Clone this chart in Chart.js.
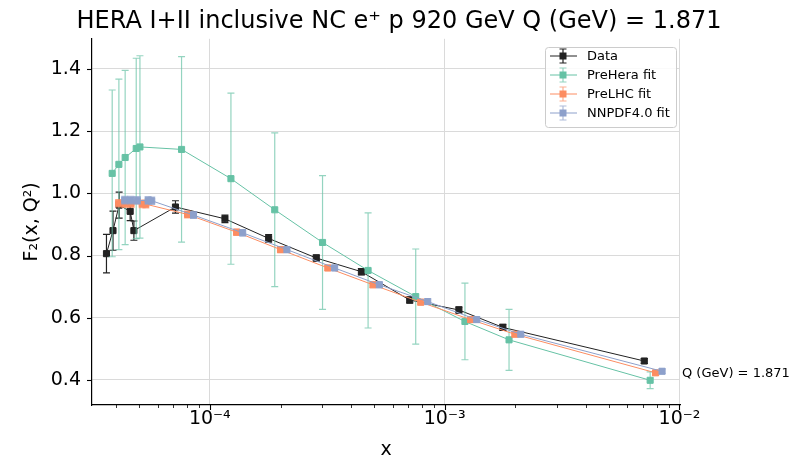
<!DOCTYPE html>
<html>
<head>
<meta charset="utf-8">
<script src="https://cdn.jsdelivr.net/npm/chart.js@4.4.1/dist/chart.umd.min.js"></script>
<style>
  html, body { margin: 0; padding: 0; background: #fff; }
</style>
</head>
<body>
<canvas id="chart" width="798" height="457"></canvas>
<script>
// values
var dataX = [3.63e-5, 3.87e-5, 4.11e-5, 4.58e-5, 4.75e-5, 7.14e-5, 1.16e-4, 1.78e-4, 2.84e-4, 4.42e-4, 7.10e-4, 1.15e-3, 1.77e-3, 7.08e-3];
var dataY = [0.806, 0.880, 0.962, 0.942, 0.880, 0.956, 0.918, 0.855, 0.792, 0.748, 0.657, 0.625, 0.569, 0.461];
var dataErr = [0.062, 0.063, 0.042, 0.030, 0.031, 0.020, 0.012, 0.012, 0.010, 0.010, 0.010, 0.010, 0.010, 0.008];

var preHeraX = [3.84e-5, 4.10e-5, 4.36e-5, 4.86e-5, 5.04e-5, 7.58e-5, 1.23e-4, 1.89e-4, 3.02e-4, 4.72e-4, 7.53e-4, 1.22e-3, 1.88e-3, 7.50e-3];
var preHeraY = [1.064, 1.093, 1.115, 1.144, 1.149, 1.141, 1.047, 0.947, 0.842, 0.752, 0.668, 0.588, 0.529, 0.399];
var preHeraErr = [0.268, 0.274, 0.280, 0.290, 0.293, 0.298, 0.275, 0.247, 0.215, 0.185, 0.153, 0.123, 0.098, 0.027];

var preLhcX = [4.09e-5, 4.35e-5, 4.62e-5, 5.15e-5, 5.34e-5, 8.04e-5, 1.30e-4, 2.00e-4, 3.18e-4, 4.95e-4, 7.91e-4, 1.29e-3, 1.99e-3, 7.91e-3];
var preLhcY = [0.968, 0.967, 0.967, 0.966, 0.965, 0.932, 0.875, 0.819, 0.760, 0.706, 0.650, 0.594, 0.547, 0.423];
var preLhcErr = [0.012, 0.012, 0.012, 0.012, 0.012, 0.011, 0.010, 0.010, 0.009, 0.009, 0.009, 0.008, 0.008, 0.008];

var nnpdfX = [4.34e-5, 4.61e-5, 4.91e-5, 5.46e-5, 5.66e-5, 8.52e-5, 1.38e-4, 2.13e-4, 3.40e-4, 5.27e-4, 8.47e-4, 1.37e-3, 2.11e-3, 8.43e-3];
var nnpdfY = [0.978, 0.978, 0.977, 0.977, 0.976, 0.930, 0.873, 0.819, 0.760, 0.706, 0.652, 0.594, 0.547, 0.428];
var nnpdfErr = [0.012, 0.012, 0.012, 0.012, 0.012, 0.011, 0.010, 0.010, 0.009, 0.009, 0.009, 0.008, 0.008, 0.008];

var xMajor = [1e-4, 1e-3, 1e-2];
var xMajorLabels = ['10\u207b\u2074', '10\u207b\u00b3', '10\u207b\u00b2'];
var yTicks = [0.4, 0.6, 0.8, 1.0, 1.2, 1.4];

var seriesNames = ['Data', 'PreHera fit', 'PreLHC fit', 'NNPDF4.0 fit'];
var seriesColors = ['#222222', '#66c2a5', '#fc8d62', '#8da0cb'];
var errColors = ['#222222', 'rgba(102,194,165,0.7)', 'rgba(252,141,98,0.7)', 'rgba(141,160,203,0.7)'];

Chart.defaults.font.family = 'DejaVu Sans';
Chart.defaults.color = '#000';

var pts = function (xs, ys) {
    return xs.map(function (x, i) { return {x: x, y: ys[i]}; });
};

var mkSet = function (k, xs, ys, errs) {
    return {
        label: seriesNames[k],
        data: pts(xs, ys),
        errors: errs,
        errColor: errColors[k],
        showLine: true,
        borderColor: seriesColors[k],
        backgroundColor: seriesColors[k],
        borderWidth: 1,
        pointStyle: 'rect',
        pointRadius: 4.3,
        pointBorderWidth: 1,
        pointBorderColor: seriesColors[k],
        pointBackgroundColor: seriesColors[k],
        order: 4 - k
    };
};

// error bars, drawn under each series' own line and markers
var errorBars = {
    id: 'errorBars',
    beforeDatasetDraw: function (chart, args) {
        var ds = chart.data.datasets[args.index];
        if (!ds.errors) return;
        var y = chart.scales.y, ctx = chart.ctx, a = chart.chartArea;
        ctx.save();
        ctx.beginPath();
        ctx.rect(a.left, a.top, a.right - a.left, a.bottom - a.top);
        ctx.clip();
        ctx.strokeStyle = ds.errColor;
        ctx.lineWidth = 1.2;
        args.meta.data.forEach(function (pt, i) {
            var v = ds.data[i].y, e = ds.errors[i];
            var top = y.getPixelForValue(v + e), bot = y.getPixelForValue(v - e);
            ctx.beginPath();
            ctx.moveTo(pt.x, top); ctx.lineTo(pt.x, bot);
            ctx.moveTo(pt.x - 3.5, top); ctx.lineTo(pt.x + 3.5, top);
            ctx.moveTo(pt.x - 3.5, bot); ctx.lineTo(pt.x + 3.5, bot);
            ctx.stroke();
        });
        ctx.restore();
    }
};

// tick marks, legend box and side note
var extras = {
    id: 'extras',
    afterDraw: function (chart) {
        var ctx = chart.ctx, a = chart.chartArea;
        var xs = chart.scales.x, ys = chart.scales.y;
        ctx.save();
        ctx.strokeStyle = '#000';

        // x ticks, major + minor
        for (var p = -5; p <= -2; p++) {
            for (var m = 1; m <= 9; m++) {
                var v = m * Math.pow(10, p);
                if (v < xs.min || v > xs.max) continue;
                var px = Math.round(xs.getPixelForValue(v)) + 0.5;
                ctx.lineWidth = m === 1 ? 1.1 : 0.8;
                ctx.beginPath();
                ctx.moveTo(px, a.bottom);
                ctx.lineTo(px, a.bottom + (m === 1 ? 5 : 3));
                ctx.stroke();
            }
        }
        // y ticks
        ctx.lineWidth = 1.1;
        yTicks.forEach(function (v) {
            var py = Math.round(ys.getPixelForValue(v)) + 0.5;
            ctx.beginPath();
            ctx.moveTo(a.left - 5, py);
            ctx.lineTo(a.left, py);
            ctx.stroke();
        });

        // legend
        var bx = 545, by = 47, bw = 131, bh = 80;
        ctx.fillStyle = 'rgba(255,255,255,0.85)';
        ctx.strokeStyle = '#cccccc';
        ctx.lineWidth = 1;
        ctx.beginPath();
        ctx.roundRect(bx + 0.5, by + 0.5, bw, bh, 3);
        ctx.fill();
        ctx.stroke();
        ctx.font = '13px "DejaVu Sans"';
        ctx.textBaseline = 'middle';
        ctx.textAlign = 'left';
        for (var k = 0; k < seriesNames.length; k++) {
            var ly = 56 + k * 19;
            var cx = 563;
            ctx.strokeStyle = seriesColors[k];
            ctx.lineWidth = 1;
            ctx.beginPath();
            ctx.moveTo(550, ly); ctx.lineTo(577, ly);
            ctx.stroke();
            ctx.strokeStyle = errColors[k];
            ctx.lineWidth = 1.2;
            ctx.beginPath();
            ctx.moveTo(cx, ly - 7); ctx.lineTo(cx, ly + 7);
            ctx.moveTo(cx - 3.5, ly - 7); ctx.lineTo(cx + 3.5, ly - 7);
            ctx.moveTo(cx - 3.5, ly + 7); ctx.lineTo(cx + 3.5, ly + 7);
            ctx.stroke();
            ctx.fillStyle = seriesColors[k];
            ctx.fillRect(cx - 3.5, ly - 3.5, 7, 7);
            ctx.fillStyle = '#000';
            ctx.fillText(seriesNames[k], 587, ly + 0.5);
        }

        // note at the right of the axes
        ctx.font = '13px "DejaVu Sans"';
        ctx.fillStyle = '#000';
        ctx.fillText('Q (GeV) = 1.871', a.right + 2, ys.getPixelForValue(0.419));
        ctx.restore();
    }
};

new Chart(document.getElementById('chart'), {
    type: 'scatter',
    data: {
        datasets: [
            mkSet(0, dataX, dataY, dataErr),
            mkSet(1, preHeraX, preHeraY, preHeraErr),
            mkSet(2, preLhcX, preLhcY, preLhcErr),
            mkSet(3, nnpdfX, nnpdfY, nnpdfErr)
        ]
    },
    options: {
        responsive: false,
        animation: false,
        devicePixelRatio: 1,
        layout: { padding: 0 },
        plugins: {
            legend: { display: false },
            tooltip: { enabled: false },
            title: {
                display: true,
                text: 'HERA I+II inclusive NC e\u207a p 920 GeV Q (GeV) = 1.871',
                font: { size: 24, weight: 'normal' },
                color: '#000',
                padding: { top: 7, bottom: 3 }
            }
        },
        scales: {
            x: {
                type: 'logarithmic',
                min: 3.15e-5,
                max: 1.005e-2,
                afterBuildTicks: function (s) {
                    s.ticks = xMajor.map(function (v) { return {value: v, major: true}; });
                },
                afterFit: function (s) { s.height = 52; },
                ticks: {
                    autoSkip: false,
                    maxRotation: 0,
                    padding: 3,
                    font: { size: 19 },
                    callback: function (v) {
                        var i = xMajor.indexOf(v);
                        return i < 0 ? '' : xMajorLabels[i];
                    }
                },
                grid: { color: '#dadada', lineWidth: 1, drawTicks: false },
                border: { color: '#000', width: 1.2 },
                title: { display: true, text: 'x', font: { size: 19 }, padding: { top: 0, bottom: -4 } }
            },
            y: {
                min: 0.3196,
                max: 1.4965,
                afterBuildTicks: function (s) {
                    s.ticks = yTicks.map(function (v) { return {value: v}; });
                },
                afterFit: function (s) { s.width = 92; },
                ticks: {
                    padding: 11,
                    font: { size: 19 },
                    callback: function (v) { return v.toFixed(1); }
                },
                grid: { color: '#dadada', lineWidth: 1, drawTicks: false },
                border: { color: '#000', width: 1.2 },
                title: { display: true, text: 'F\u2082(x, Q\u00b2)', font: { size: 19 }, padding: { top: 21, bottom: 0 } }
            },
            // empty strip on the right, keeps room for the side note
            yr: {
                position: 'right',
                min: 0,
                max: 1,
                afterFit: function (s) { s.width = 118; },
                ticks: { display: false },
                grid: { display: false },
                border: { display: false }
            }
        }
    },
    plugins: [errorBars, extras]
});
</script>
</body>
</html>
